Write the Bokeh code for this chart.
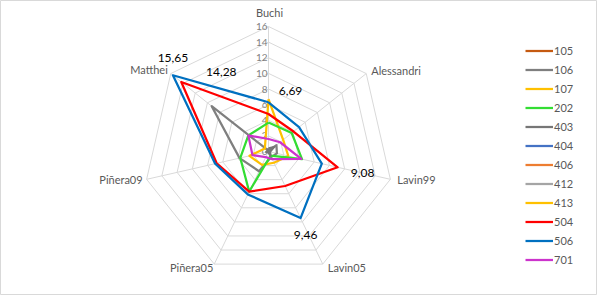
import numpy as np
from bokeh.plotting import figure
from bokeh.models import Range1d, Legend, LegendItem
from bokeh.core.properties import value
from bokeh.embed import file_html
from bokeh.resources import INLINE

# ---------------- data ----------------
categories = ["Buchi", "Alessandri", "Lavin99", "Lavin05", "Piñera05", "Piñera09", "Matthei"]
series_names = ["105", "106", "107", "202", "403", "404", "406", "412", "413", "504", "506", "701"]

s105 = [0, 0, 0, 0, 0, 0, 0]
s106 = [0.1, 1.3, 1.1, 0.8, 2.8, 3.8, 9.3]
s107 = [6.69, 2.4, 2.6, 1.6, 1.9, 2.5, 0.6]
s202 = [3.7, 3.8, 4.4, 0.6, 5.7, 3.7, 3.3]
s403 = [0.4, 0.9, 0.2, 0.6, 0.1, 0.3, 0.1]
s404 = [0, 0, 0, 0, 0, 0, 0]
s406 = [0, 0, 0, 0, 0, 0, 0]
s412 = [0, 0, 0, 0, 0, 0, 0]
s413 = [0, 0, 0, 0, 0, 0, 0]
s504 = [4.8, 4.1, 9.08, 4.9, 5.7, 6.8, 14.28]
s506 = [6.3, 5.0, 7.0, 9.46, 6.1, 7.0, 15.65]
s701 = [1.6, 1.9, 4.3, 1.1, 0.8, 2.1, 3.3]

series_values = [s105, s106, s107, s202, s403, s404, s406, s412, s413, s504, s506, s701]
series_colors = ["#C55A11", "#7F7F7F", "#FFC000", "#33DD33", "#767676", "#4472C4",
                 "#ED7D31", "#A5A5A5", "#FFC000", "#FF0000", "#0070C0", "#CC33CC"]

tick_values = [0, 2, 4, 6, 8, 10, 12, 14, 16]
r_max = 16

# data labels: (series name, category index, pixel offset x, pixel offset y)
data_labels = [("506", 6, 0, -17), ("504", 6, 40, -10), ("107", 0, 22, -8),
               ("504", 2, 25, 6), ("506", 3, 5, 17)]

# category label placement (align, x offset, y offset)
cat_place = [("center", 1, -14), ("left", 5, -3), ("left", 7, 0), ("left", 5, 3),
             ("right", -1, 3), ("right", -4, 0), ("right", -3, -4)]

# ---------------- geometry ----------------
W, H = 597, 295
k = 125.0 / 16.0          # px per unit
cx, cy = 268, 151         # center in figure px
n = len(categories)
ang = np.arange(n) * 2 * np.pi / n
sx, sy = np.sin(ang), np.cos(ang)

FONT = "Lato"

p = figure(width=W, height=H, output_backend="svg", toolbar_location=None,
           x_range=Range1d(-cx / k, (W - cx) / k), y_range=Range1d(-(H - cy) / k, cy / k),
           min_border=0, min_border_left=0, min_border_right=0, min_border_top=0,
           min_border_bottom=0)
p.xaxis.visible = False
p.yaxis.visible = False
p.grid.visible = False
p.outline_line_color = "#D9D9D9"
p.background_fill_color = "white"
p.border_fill_color = "white"

# grid rings
ring_xs, ring_ys = [], []
for t in tick_values[1:]:
    ring_xs.append(list(t * sx) + [t * sx[0]])
    ring_ys.append(list(t * sy) + [t * sy[0]])
p.multi_line(ring_xs, ring_ys, line_color="#D9D9D9", line_width=1)
# spokes
p.segment(x0=[0] * n, y0=[0] * n, x1=list(r_max * sx), y1=list(r_max * sy),
          line_color="#D9D9D9", line_width=1)

# tick labels
p.text(x=[0] * len(tick_values), y=tick_values, text=[str(t) for t in tick_values],
       text_align="right", text_baseline="middle", x_offset=-1,
       text_font=value(FONT), text_font_size="10px", text_color="#7F7F7F")

# series
items = []
for name, vals, col in zip(series_names, series_values, series_colors):
    v = np.array(vals, dtype=float)
    xs = list(v * sx) + [v[0] * sx[0]]
    ys = list(v * sy) + [v[0] * sy[0]]
    r = p.line(xs, ys, line_color=col, line_width=2.25, line_join="round")
    items.append(LegendItem(label=name, renderers=[r]))

# category labels
for i, cat in enumerate(categories):
    al, dx, dy = cat_place[i]
    p.text(x=[r_max * sx[i]], y=[r_max * sy[i]], text=[cat], text_align=al,
           text_baseline="middle", x_offset=dx, y_offset=dy,
           text_font=value(FONT), text_font_size="11px", text_color="#595959")

# data labels
for name, ci, dx, dy in data_labels:
    v = series_values[series_names.index(name)][ci]
    p.text(x=[v * sx[ci]], y=[v * sy[ci]], text=[f"{v:.2f}".replace(".", ",")],
           text_align="center", text_baseline="middle", x_offset=dx, y_offset=dy,
           text_font=value(FONT), text_font_size="12px", text_color="#000000")

legend = Legend(items=items, location=(525, 26), padding=0, margin=0, spacing=0,
                glyph_width=28, glyph_height=19, label_height=19, label_standoff=1,
                border_line_color=None, background_fill_alpha=0,
                label_text_font=FONT, label_text_font_size="11px",
                label_text_color="#595959")
p.add_layout(legend, "center")

open("out.html", "w").write(file_html(p, INLINE))
